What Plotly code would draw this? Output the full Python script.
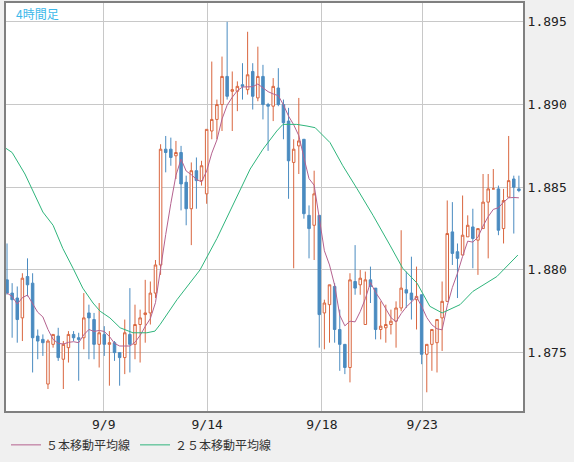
import plotly.graph_objects as go
import pandas as pd

opens = [1.8794,1.8786,1.8783,1.8771,1.8796,1.8792,1.8760,1.8758,1.8731,1.8755,
 1.8760,1.8746,1.8753,1.8761,1.8759,1.8759,1.8774,1.8770,1.8755,1.8761,
 1.8755,1.8756,1.8750,1.8747,1.8761,1.8755,1.8767,1.8773,1.8774,1.8786,
 1.8803,1.8873,1.8873,1.8869,1.8871,1.8853,1.8837,1.8860,1.8854,1.8846,
 1.8884,1.8891,1.8900,1.8917,1.8908,1.8908,1.8912,1.8909,1.8920,1.8904,
 1.8917,1.8900,1.8899,1.8910,1.8900,1.8890,1.8865,1.8875,1.8879,1.8833,
 1.8827,1.8833,1.8774,1.8779,1.8790,1.8764,1.8755,1.8741,1.8793,1.8791,
 1.8767,1.8794,1.8789,1.8764,1.8765,1.8767,1.8769,1.8777,1.8788,1.8786,
 1.8782,1.8785,1.8749,1.8755,1.8756,1.8771,1.8781,1.8823,1.8811,1.8809,
 1.8820,1.8826,1.8818,1.8825,1.8841,1.8849,1.8849,1.8825,1.8844,1.8855,1.8849]
highs = [1.8816,1.8792,1.8790,1.8798,1.8807,1.8798,1.8764,1.8761,1.8758,1.8761,
 1.8765,1.8757,1.8763,1.8763,1.8762,1.8786,1.8779,1.8774,1.8780,1.8766,
 1.8763,1.8757,1.8750,1.8770,1.8789,1.8779,1.8776,1.8794,1.8793,1.8806,
 1.8876,1.8881,1.8880,1.8878,1.8875,1.8857,1.8865,1.8868,1.8866,1.8885,
 1.8926,1.8903,1.8929,1.8950,1.8920,1.8914,1.8925,1.8944,1.8925,1.8935,
 1.8924,1.8901,1.8916,1.8922,1.8903,1.8898,1.8879,1.8904,1.8879,1.8839,
 1.8860,1.8833,1.8782,1.8791,1.8792,1.8776,1.8755,1.8798,1.8815,1.8800,
 1.8799,1.8802,1.8789,1.8781,1.8779,1.8776,1.8781,1.8824,1.8799,1.8808,
 1.8802,1.8785,1.8755,1.8764,1.8770,1.8793,1.8842,1.8841,1.8816,1.8845,
 1.8833,1.8837,1.8825,1.8858,1.8858,1.8861,1.8851,1.8849,1.8881,1.8857,1.8857]
lows = [1.8785,1.8759,1.8756,1.8757,1.8784,1.8738,1.8746,1.8748,1.8728,1.8753,
 1.8745,1.8728,1.8744,1.8757,1.8733,1.8752,1.8746,1.8746,1.8741,1.8748,
 1.8730,1.8745,1.8730,1.8737,1.8738,1.8746,1.8744,1.8756,1.8767,1.8783,
 1.8797,1.8859,1.8863,1.8855,1.8836,1.8827,1.8815,1.8837,1.8851,1.8840,
 1.8879,1.8879,1.8884,1.8903,1.8884,1.8896,1.8903,1.8906,1.8897,1.8902,
 1.8891,1.8872,1.8890,1.8899,1.8879,1.8843,1.8801,1.8858,1.8831,1.8807,
 1.8806,1.8753,1.8752,1.8756,1.8756,1.8739,1.8737,1.8732,1.8785,1.8785,
 1.8767,1.8780,1.8758,1.8758,1.8756,1.8761,1.8753,1.8775,1.8777,1.8770,
 1.8764,1.8743,1.8726,1.8739,1.8738,1.8751,1.8781,1.8803,1.8783,1.8809,
 1.8820,1.8801,1.8797,1.8825,1.8807,1.8849,1.8821,1.8816,1.8844,1.8822,1.8847]
closes = [1.8786,1.8782,1.8770,1.8795,1.8791,1.8759,1.8757,1.8756,1.8757,1.8761,
 1.8747,1.8755,1.8761,1.8759,1.8758,1.8771,1.8771,1.8755,1.8762,1.8755,
 1.8756,1.8750,1.8747,1.8762,1.8755,1.8767,1.8771,1.8774,1.8786,1.8803,
 1.8873,1.8871,1.8868,1.8871,1.8852,1.8837,1.8860,1.8854,1.8863,1.8885,
 1.8891,1.8900,1.8917,1.8905,1.8909,1.8911,1.8911,1.8918,1.8905,1.8917,
 1.8900,1.8899,1.8911,1.8900,1.8889,1.8866,1.8873,1.8878,1.8834,1.8825,
 1.8846,1.8773,1.8780,1.8791,1.8764,1.8755,1.8741,1.8794,1.8789,1.8795,
 1.8794,1.8790,1.8764,1.8766,1.8767,1.8769,1.8777,1.8789,1.8786,1.8782,
 1.8784,1.8749,1.8755,1.8764,1.8770,1.8781,1.8822,1.8810,1.8807,1.8821,
 1.8827,1.8819,1.8825,1.8841,1.8849,1.8849,1.8824,1.8842,1.8854,1.8850,1.8848]

ma25_x = [-1.4,1.0,3.5,5.1,7.0,9.0,10.9,12.9,14.8,16.8,18.2,20.1,22.1,24.6,27.3,28.9,29.9,
 33.2,37.7,41.0,44.1,47.5,50.0,52.7,53.9,56.6,58.6,60.2,63.1,65.6,68.4,71.5,74.8,77.3,
 80.1,82.6,85.0,88.5,91.0,95.7,99.8]
ma25_y = [1.8876,1.8871,1.8858,1.8847,1.8835,1.8827,1.8813,1.8801,1.8789,1.8780,1.8775,
 1.8771,1.8765,1.8762,1.8762,1.8763,1.8767,1.8782,1.8800,1.8819,1.8839,1.8861,1.8873,
 1.8884,1.8888,1.8888,1.8887,1.8886,1.8877,1.8863,1.8849,1.8833,1.8815,1.8801,1.8792,
 1.8778,1.8774,1.8779,1.8787,1.8796,1.8809]

tick_pos = [18.9, 39.1, 61.5, 81.1]
tick_text = ["9/9", "9/14", "9/18", "9/23"]
y_ticks = [1.875, 1.880, 1.885, 1.890, 1.895]
y_tick_text = ["1.875", "1.880", "1.885", "1.890", "1.895"]

idx = list(range(len(closes)))
ma5 = pd.Series(closes).rolling(5, min_periods=1).mean().tolist()

RED = "#d9663f"
BLUE = "#4a8bc0"

fig = go.Figure()
fig.add_trace(go.Candlestick(
    x=idx, open=opens, high=highs, low=lows, close=closes,
    increasing=dict(line=dict(color=RED, width=1), fillcolor="white"),
    decreasing=dict(line=dict(color=BLUE, width=1), fillcolor=BLUE),
    whiskerwidth=0, showlegend=False, hoverinfo="skip"))
fig.add_trace(go.Scatter(x=idx, y=ma5, mode="lines", name="５本移動平均線",
    line=dict(color="#b5628f", width=1)))
fig.add_trace(go.Scatter(x=ma25_x, y=ma25_y, mode="lines", name="２５本移動平均線",
    line=dict(color="#2fb57c", width=1)))

fig.update_layout(
    width=574, height=462,
    margin=dict(l=6, r=51, t=1, b=51),
    paper_bgcolor="#f0f0f0", plot_bgcolor="white",
    font=dict(family="DejaVu Sans Mono", size=13, color="#222"),
    legend=dict(orientation="h", x=0.0, y=-0.083, xanchor="left", yanchor="middle",
                bgcolor="rgba(0,0,0,0)",
                font=dict(family="Noto Sans CJK JP", size=12, color="#333")),
    annotations=[dict(text="4時間足", xref="paper", yref="paper", x=0.015, y=1.0,
                      xanchor="left", yanchor="top", showarrow=False,
                      font=dict(family="Noto Sans CJK JP", size=12, color="#3cb8ea"))],
)
fig.update_xaxes(range=[-0.2, 100.8], tickvals=tick_pos, ticktext=tick_text,
                 showgrid=True, gridcolor="#c8c8c8", gridwidth=1,
                 rangeslider_visible=False, showline=True, linecolor="#808080",
                 linewidth=2, mirror=True, ticks="", zeroline=False)
fig.update_yaxes(range=[1.87147, 1.89614], side="right",
                 tickvals=y_ticks, ticktext=y_tick_text,
                 showgrid=True, gridcolor="#c8c8c8", gridwidth=1,
                 showline=True, linecolor="#808080", linewidth=2, mirror=True,
                 ticks="", zeroline=False, automargin=False,
                 tickfont=dict(size=13), ticklabelstandoff=0)

fig.write_html("out.html", config={"displayModeBar": False},
               post_script="document.body.style.margin='0';")
